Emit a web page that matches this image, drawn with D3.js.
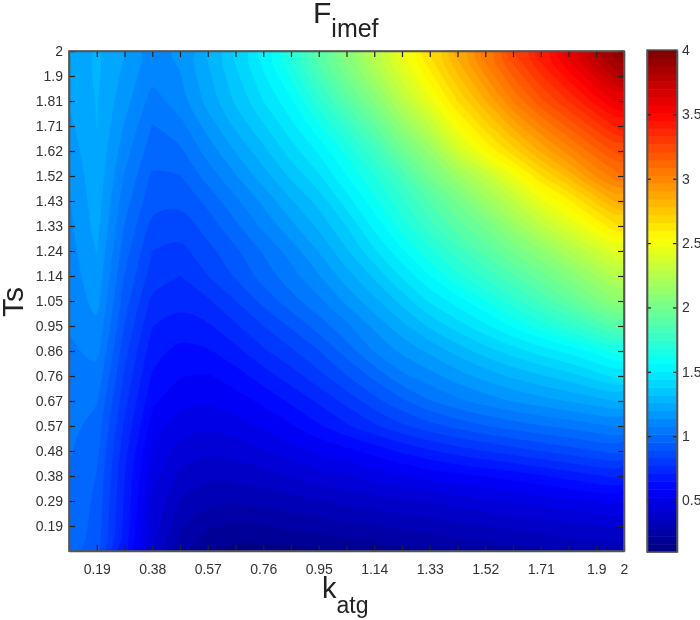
<!DOCTYPE html>
<html><head><meta charset="utf-8">
<style>html,body{margin:0;padding:0;background:#fff}svg{display:block;filter:blur(0.45px)}
text{font-family:"Liberation Sans",Arial,sans-serif;fill:#333}</style>
<script src="https://cdn.jsdelivr.net/npm/d3@7"></script></head><body>
<svg id="c" width="700" height="620"></svg>
<script>
// k_atg tick positions and labels
const kTicks = [0.195,0.29,0.385,0.48,0.575,0.67,0.765,0.86,0.955,1.05,1.145,1.24,1.335,1.43,1.525,1.62,1.715,1.81,1.905,2.0];
const kLabels = ["0.19","","0.38","","0.57","","0.76","","0.95","","1.14","","1.33","","1.52","","1.71","","1.9","2"];
// Ts tick positions and labels
const tTicks = [2.0,1.905,1.81,1.715,1.62,1.525,1.43,1.335,1.24,1.145,1.05,0.955,0.86,0.765,0.67,0.575,0.48,0.385,0.29,0.195];
const tLabels = ["2","1.9","1.81","1.71","1.62","1.52","1.43","1.33","1.24","1.14","1.05","0.95","0.86","0.76","0.67","0.57","0.48","0.38","0.29","0.19"];
const cbTicks = [0.5,1,1.5,2,2.5,3,3.5,4];
const cbLabels = ["0.5","1","1.5","2","2.5","3","3.5","4"];
// F_imef: one array per Ts row, top (Ts=2) to bottom (Ts=0.1), 21 k_atg columns
const row00=[1.2,1.27,1.2,1.12,1.15,1.27,1.4,1.54,1.72,1.92,2.1,2.29,2.49,2.68,2.88,3.08,3.27,3.45,3.63,3.82,4.0];
const row01=[1.2,1.27,1.18,1.08,1.13,1.24,1.36,1.49,1.63,1.82,2.0,2.18,2.38,2.57,2.77,2.96,3.15,3.32,3.48,3.65,3.83];
const row02=[1.2,1.26,1.16,1.05,1.11,1.22,1.33,1.44,1.55,1.72,1.89,2.06,2.26,2.46,2.66,2.84,3.03,3.19,3.33,3.48,3.62];
const row03=[1.18,1.26,1.13,1.01,1.05,1.16,1.27,1.37,1.48,1.61,1.76,1.92,2.11,2.29,2.51,2.69,2.86,3.02,3.16,3.3,3.44];
const row04=[1.16,1.25,1.1,0.98,1.0,1.1,1.2,1.3,1.41,1.51,1.64,1.79,1.97,2.13,2.36,2.54,2.69,2.85,2.99,3.13,3.26];
const row05=[1.14,1.24,1.07,0.94,0.95,1.04,1.13,1.23,1.33,1.43,1.56,1.68,1.83,2.0,2.15,2.29,2.47,2.65,2.8,2.97,3.09];
const row06=[1.13,1.23,1.04,0.91,0.9,0.97,1.06,1.15,1.25,1.34,1.47,1.6,1.73,1.87,2.0,2.15,2.29,2.46,2.58,2.74,2.9];
const row07=[1.12,1.22,1.01,0.87,0.85,0.92,1.0,1.09,1.18,1.27,1.38,1.52,1.65,1.78,1.9,2.0,2.14,2.28,2.41,2.55,2.68];
const row08=[1.11,1.2,0.98,0.83,0.81,0.87,0.94,1.02,1.1,1.2,1.31,1.43,1.55,1.67,1.78,1.89,2.0,2.1,2.22,2.34,2.46];
const row09=[1.1,1.18,0.95,0.8,0.77,0.83,0.9,0.98,1.05,1.13,1.23,1.33,1.45,1.56,1.67,1.76,1.86,1.96,2.06,2.17,2.29];
const row10=[1.09,1.16,0.92,0.75,0.72,0.76,0.83,0.91,0.99,1.06,1.15,1.24,1.34,1.45,1.53,1.62,1.72,1.82,1.92,2.03,2.13];
const row11=[1.08,1.13,0.89,0.71,0.67,0.7,0.76,0.83,0.9,0.98,1.06,1.15,1.24,1.33,1.41,1.49,1.57,1.65,1.73,1.82,1.92];
const row12=[1.06,1.1,0.85,0.67,0.63,0.64,0.69,0.76,0.82,0.89,0.98,1.08,1.15,1.21,1.28,1.35,1.41,1.47,1.52,1.58,1.68];
const row13=[1.05,1.06,0.82,0.64,0.59,0.58,0.62,0.68,0.74,0.81,0.89,0.97,1.06,1.11,1.17,1.22,1.27,1.31,1.35,1.41,1.48];
const row14=[1.04,1.02,0.79,0.6,0.54,0.53,0.56,0.6,0.66,0.72,0.79,0.87,0.94,1.01,1.06,1.1,1.14,1.17,1.2,1.23,1.27];
const row15=[1.03,0.99,0.76,0.56,0.49,0.47,0.5,0.54,0.58,0.64,0.7,0.76,0.82,0.87,0.91,0.95,0.98,1.01,1.03,1.06,1.09];
const row16=[1.02,0.97,0.73,0.52,0.44,0.41,0.43,0.46,0.5,0.54,0.57,0.61,0.66,0.7,0.74,0.77,0.8,0.83,0.86,0.89,0.92];
const row17=[1.01,0.95,0.71,0.48,0.39,0.35,0.36,0.38,0.41,0.44,0.46,0.49,0.52,0.55,0.57,0.59,0.61,0.64,0.67,0.7,0.73];
const row18=[1.0,0.94,0.7,0.46,0.34,0.29,0.29,0.3,0.32,0.34,0.36,0.38,0.39,0.41,0.43,0.45,0.47,0.49,0.51,0.53,0.55];
const row19=[1.0,0.93,0.69,0.44,0.29,0.23,0.21,0.22,0.24,0.25,0.27,0.28,0.3,0.31,0.33,0.34,0.36,0.37,0.39,0.4,0.42];
const row20=[0.99,0.92,0.68,0.42,0.25,0.16,0.13,0.13,0.14,0.15,0.17,0.19,0.2,0.22,0.23,0.25,0.26,0.27,0.29,0.3,0.32];
const rows=[row00,row01,row02,row03,row04,row05,row06,row07,row08,row09,row10,row11,row12,row13,row14,row15,row16,row17,row18,row19,row20];

const P={l:69,r:624,t:51,b:551}, CB={l:647,r:677,t:50,b:552};
const vMin=0.1, vMax=4, nLevels=64;
const levels=d3.range(nLevels).map(i=>vMin+i*(vMax-vMin)/nLevels);
function jet(f){
  const ramp=t=>Math.max(0,Math.min(1,1.5-Math.abs(4*f-t)));
  return d3.rgb(255*ramp(3),255*ramp(2),255*ramp(1))+"";
}
const bandColor=i=>jet((i+0.5)/nLevels);

const x=d3.scaleLinear().domain([0.1,2.0]).range([P.l,P.r]);
const y=d3.scaleLinear().domain([0.1,2.0]).range([P.b,P.t]);
const gridK=d3.scaleLinear().domain([0.5,20.5]).range([0.1,2.0]);
const gridT=d3.scaleLinear().domain([0.5,20.5]).range([2.0,0.1]);
const svg=d3.select("#c");
svg.append("defs").append("clipPath").attr("id","pc").append("rect")
  .attr("x",P.l).attr("y",P.t).attr("width",P.r-P.l).attr("height",P.b-P.t);

const contours=d3.contours().size([21,21]).smooth(true).thresholds(levels)(rows.flat());
// each contour ring is drawn through a closed spline so the bands read as smooth curves
const ringLine=d3.line().x(p=>x(gridK(p[0]))).y(p=>y(gridT(p[1]))).curve(d3.curveBasisClosed);
const contourPath=c=>c.coordinates.map(poly=>poly.map(r=>ringLine(r.slice(0,-1))).join("")).join("");
const g=svg.append("g").attr("clip-path","url(#pc)");
g.append("rect").attr("x",P.l).attr("y",P.t).attr("width",P.r-P.l).attr("height",P.b-P.t).attr("fill",bandColor(0));
g.selectAll("path").data(contours).join("path").attr("d",contourPath).attr("fill-rule","evenodd")
  .attr("fill",(d,i)=>bandColor(i)).attr("stroke",(d,i)=>bandColor(i)).attr("stroke-width",0.4);

// frame and inward ticks
function styleAxis(s,fs){
  s.selectAll("path.domain").attr("stroke","#555").attr("stroke-width",1.6);
  s.selectAll(".tick line").attr("stroke","#222").attr("stroke-width",1.2);
  s.selectAll("text").attr("font-size",fs).style("font-family",'"Liberation Sans",Arial,sans-serif').attr("fill","#3a3a3a");
}
const kFmt=(d,i)=>kLabels[i], tFmt=(d,i)=>tLabels[i], cFmt=(d,i)=>cbLabels[i];
svg.append("g").attr("transform",`translate(0,${P.b})`)
  .call(d3.axisBottom(x).tickValues(kTicks).tickFormat(kFmt).tickSize(-6).tickSizeOuter(0).tickPadding(13))
  .call(styleAxis,14);
svg.append("g").attr("transform",`translate(0,${P.t})`)
  .call(d3.axisTop(x).tickValues(kTicks).tickFormat("").tickSize(-6).tickSizeOuter(0)).call(styleAxis,14);
svg.append("g").attr("transform",`translate(${P.l},0)`)
  .call(d3.axisLeft(y).tickValues(tTicks).tickFormat(tFmt).tickSize(-6).tickSizeOuter(0).tickPadding(6))
  .call(styleAxis,14);
svg.append("g").attr("transform",`translate(${P.r},0)`)
  .call(d3.axisRight(y).tickValues(tTicks).tickFormat("").tickSize(-6).tickSizeOuter(0)).call(styleAxis,14);

// colour bar
const cb=d3.scaleLinear().domain([vMin,vMax]).range([CB.b,CB.t]);
svg.append("g").selectAll("rect").data(levels).join("rect")
  .attr("x",CB.l).attr("width",CB.r-CB.l)
  .attr("y",d=>cb(d+(vMax-vMin)/nLevels)).attr("height",d=>cb(d)-cb(d+(vMax-vMin)/nLevels)+0.5)
  .attr("fill",(d,i)=>bandColor(i));
svg.append("g").attr("transform",`translate(${CB.r},0)`)
  .call(d3.axisRight(cb).tickValues(cbTicks).tickFormat(cFmt).tickSize(-4).tickSizeOuter(0).tickPadding(5)).call(styleAxis,14);
svg.append("g").attr("transform",`translate(${CB.l},0)`)
  .call(d3.axisLeft(cb).tickValues(cbTicks).tickFormat("").tickSize(-4).tickSizeOuter(0)).call(styleAxis,14);
svg.append("rect").attr("x",CB.l).attr("y",CB.t).attr("width",CB.r-CB.l).attr("height",CB.b-CB.t)
  .attr("fill","none").attr("stroke","#555").attr("stroke-width",1.4);
svg.append("rect").attr("x",P.l).attr("y",P.t).attr("width",P.r-P.l).attr("height",P.b-P.t)
  .attr("fill","none").attr("stroke","#555").attr("stroke-width",1.6);

// titles
function label(xp,yp,main,sub,fs,fsSub,dy){
  const t=svg.append("text").attr("x",xp).attr("y",yp).attr("font-size",fs).attr("fill","#222").style("fill","#222");
  t.append("tspan").text(main);
  t.append("tspan").attr("dy",dy).attr("font-size",fsSub).text(sub);
}
label(313,23,"F","imef",30,25,14);
label(322,598,"k","atg",29,23,15);
svg.append("text").attr("transform","translate(23,317) rotate(-90)").attr("font-size",30).style("fill","#222").text("Ts");
</script></body></html>
